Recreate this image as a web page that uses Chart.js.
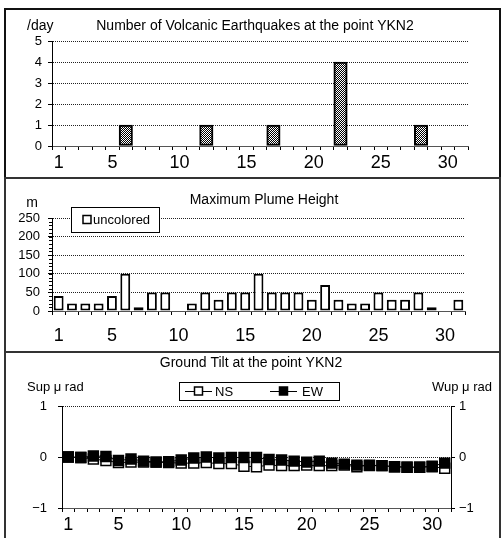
<!DOCTYPE html>
<html>
<head>
<meta charset="utf-8">
<script src="https://cdn.jsdelivr.net/npm/chart.js@4.4.0/dist/chart.umd.min.js"></script>
<style>
  html, body { margin: 0; padding: 0; background: #fff; overflow: hidden; }
  body { width: 501px; height: 538px; position: relative; }
  canvas { position: absolute; left: 0; }
  .frame { position: absolute; left: 4px; width: 497px; box-sizing: border-box; border: 2px solid #333; pointer-events: none; }
</style>
</head>
<body>
<canvas id="quake" width="501" height="169" style="top:9px"></canvas>
<canvas id="plume" width="501" height="174" style="top:178px"></canvas>
<canvas id="tilt" width="501" height="186" style="top:352px"></canvas>
<div class="frame" style="top:8px;height:171px;border-color:#111"></div>
<div class="frame" style="top:177px;height:176px"></div>
<div class="frame" style="top:351px;height:190px"></div>
<script>
// days of the month and which of them get a label
const days = ["1", "2", "3", "4", "5", "6", "7", "8", "9", "10", "11", "12", "13", "14", "15", "16",
  "17", "18", "19", "20", "21", "22", "23", "24", "25", "26", "27", "28", "29", "30", "31"];
const labelDays = ["1", "5", "10", "15", "20", "25", "30"];

// volcanic earthquakes per day (null = none)
const quakeCounts = [null, null, null, null, null, 1, null, null, null, null, null, 1, null, null, null, null,
  1, null, null, null, null, 4, null, null, null, null, null, 1, null, null, null];

// maximum plume height, m
const plumeHeights = [40, 20, 20, 20, 40, 100, 10, 50, 50, null, 20, 50, 30, 50, 50, 100,
  50, 50, 50, 30, 70, 30, 20, 20, 50, 30, 30, 50, 10, null, 30];

// ground tilt, micro rad
const tiltNS = [0, -0.01, -0.04, -0.07, -0.11, -0.1, -0.1, -0.1, -0.11, -0.12, -0.12, -0.11, -0.13, -0.13, -0.18, -0.19,
  -0.16, -0.17, -0.17, -0.16, -0.17, -0.17, -0.16, -0.19, -0.16, -0.17, -0.19, -0.2, -0.2, -0.19, -0.22];
const tiltEW = [0, -0.01, 0.02, 0.01, -0.07, -0.04, -0.08, -0.1, -0.09, -0.06, -0.02, 0, -0.02, -0.01, -0.01, -0.01,
  -0.05, -0.06, -0.08, -0.1, -0.08, -0.12, -0.14, -0.16, -0.17, -0.17, -0.19, -0.2, -0.2, -0.18, -0.12];

const SANS = '"Liberation Sans", Arial, sans-serif';

// free text (titles, units)
const panelText = {
  id: "panelText",
  afterDraw(chart, args, opts) {
    const ctx = chart.ctx;
    ctx.save();
    ctx.fillStyle = "#000";
    ctx.textBaseline = "middle";
    (opts.items || []).forEach((t) => {
      ctx.font = t.font || "14px " + SANS;
      ctx.textAlign = t.align || "center";
      ctx.fillText(t.text, t.x, t.y);
    });
    ctx.restore();
  },
};

// boxed legend drawn from the datasets
const boxLegend = {
  id: "boxLegend",
  afterDraw(chart, args, opts) {
    if (!opts.box) return;
    const ctx = chart.ctx;
    const b = opts.box;
    const cy = b.y + b.h / 2;
    ctx.save();
    ctx.fillStyle = "#fff";
    ctx.fillRect(b.x, b.y, b.w, b.h);
    ctx.strokeStyle = "#000";
    ctx.lineWidth = 1;
    ctx.strokeRect(b.x + 0.5, b.y + 0.5, b.w, b.h);
    ctx.font = opts.font || "13px " + SANS;
    ctx.textBaseline = "middle";
    ctx.textAlign = "left";
    chart.data.datasets.forEach((ds, i) => {
      const it = opts.items[i];
      if (it.line) {
        ctx.strokeStyle = "#000";
        ctx.lineWidth = 1;
        ctx.beginPath();
        ctx.moveTo(it.x, cy + 0.5);
        ctx.lineTo(it.x + it.line, cy + 0.5);
        ctx.stroke();
      }
      const sx = it.line ? it.x + it.line / 2 : it.x + it.size / 2;
      ctx.fillStyle = ds.pointBackgroundColor || "#fff";
      ctx.fillRect(sx - it.size / 2, cy - it.size / 2, it.size, it.size);
      ctx.strokeStyle = "#000";
      ctx.lineWidth = 1.5;
      ctx.strokeRect(sx - it.size / 2, cy - it.size / 2, it.size, it.size);
      ctx.fillStyle = "#000";
      ctx.fillText(ds.label, it.tx, cy + 1);
    });
    ctx.restore();
  },
};

// small minor ticks on the left axis
const minorTicks = {
  id: "minorTicks",
  afterDraw(chart, args, opts) {
    if (!opts.step) return;
    const y = chart.scales.y;
    const ctx = chart.ctx;
    ctx.save();
    ctx.strokeStyle = "#000";
    ctx.lineWidth = 1;
    ctx.beginPath();
    for (let v = y.min; v <= y.max; v += opts.step) {
      const py = Math.round(y.getPixelForValue(v)) + 0.5;
      ctx.moveTo(y.right - 3, py);
      ctx.lineTo(y.right, py);
    }
    ctx.stroke();
    ctx.restore();
  },
};

function checkerPattern() {
  const c = document.createElement("canvas");
  c.width = 2;
  c.height = 2;
  const g = c.getContext("2d");
  g.fillStyle = "#fff";
  g.fillRect(0, 0, 2, 2);
  g.fillStyle = "#000";
  g.fillRect(0, 0, 1, 1);
  g.fillRect(1, 1, 1, 1);
  return g.createPattern(c, "repeat");
}

function dayAxis(height, pad) {
  return {
    offset: true,
    grid: { offset: true, drawOnChartArea: false, tickLength: 4, tickColor: "#000" },
    border: { color: "#555", width: 1 },
    ticks: {
      autoSkip: false,
      maxRotation: 0,
      padding: pad,
      color: "#000",
      font: { family: SANS, size: 18 },
      callback: (v, i) => (labelDays.includes(days[i]) ? days[i] : ""),
    },
    afterFit: (s) => { s.height = height; },
  };
}

function valueAxis(min, max, step, width, pad, extra) {
  return Object.assign({
    min: min,
    max: max,
    grid: { color: "#222", tickLength: 4, tickColor: "#000" },
    border: { color: "#000", width: 1, dash: [1, 1] },
    ticks: {
      stepSize: step,
      padding: pad,
      color: "#000",
      font: { family: SANS, size: 13 },
      callback: (v) => (v < 0 ? "\u2212" + Math.abs(v) : v),
    },
    afterFit: (s) => { s.width = width; },
  }, extra || {});
}

const common = {
  responsive: false,
  animation: false,
  events: [],
};

new Chart(document.getElementById("quake"), {
  type: "bar",
  data: {
    labels: days,
    datasets: [{
      label: "earthquakes",
      data: quakeCounts,
      backgroundColor: checkerPattern(),
      borderColor: "#000",
      borderWidth: 2,
      borderSkipped: false,
      barPercentage: 1,
      categoryPercentage: 1,
    }],
  },
  options: Object.assign({}, common, {
    layout: { padding: { left: 4, right: 33, top: 32, bottom: 0 } },
    plugins: {
      legend: { display: false },
      tooltip: { enabled: false },
      panelText: {
        items: [
          { text: "Number of Volcanic Earthquakes at the point YKN2", x: 255, y: 17 },
          { text: "/day", x: 27, y: 17, align: "left" },
        ],
      },
    },
    scales: {
      x: dayAxis(32, 2),
      y: valueAxis(0, 5, 1, 48, 6),
    },
  }),
  plugins: [panelText],
});

new Chart(document.getElementById("plume"), {
  type: "bar",
  data: {
    labels: days,
    datasets: [{
      label: "uncolored",
      data: plumeHeights,
      backgroundColor: "#fff",
      pointBackgroundColor: "#fff",
      borderColor: "#000",
      borderWidth: 2,
      borderSkipped: false,
      barPercentage: 0.74,
      categoryPercentage: 1,
    }],
  },
  options: Object.assign({}, common, {
    layout: { padding: { left: 4, right: 36, top: 40, bottom: 0 } },
    plugins: {
      legend: { display: false },
      tooltip: { enabled: false },
      panelText: {
        items: [
          { text: "Maximum Plume Height", x: 264, y: 22 },
          { text: "m", x: 32, y: 25 },
        ],
      },
      boxLegend: {
        box: { x: 71, y: 29, w: 88, h: 25 },
        items: [{ x: 83, size: 8, tx: 93 }],
      },
      minorTicks: { step: 10 },
    },
    scales: {
      x: dayAxis(41, 10),
      y: valueAxis(0, 250, 50, 48, 8),
    },
  }),
  plugins: [panelText, boxLegend, minorTicks],
});

new Chart(document.getElementById("tilt"), {
  type: "line",
  data: {
    labels: days,
    datasets: [
      {
        label: "NS",
        data: tiltNS,
        order: 2,
        borderColor: "#000",
        borderWidth: 1,
        pointStyle: "rect",
        pointRadius: 7,
        pointBorderWidth: 1.5,
        pointBorderColor: "#000",
        pointBackgroundColor: "#fff",
        yAxisID: "y",
      },
      {
        label: "EW",
        data: tiltEW,
        order: 1,
        borderColor: "#000",
        borderWidth: 1,
        pointStyle: "rect",
        pointRadius: 7,
        pointBorderWidth: 1.5,
        pointBorderColor: "#000",
        pointBackgroundColor: "#000",
        yAxisID: "y2",
      },
    ],
  },
  options: Object.assign({}, common, {
    layout: { padding: { left: 4, right: 4, top: 54, bottom: 0 } },
    plugins: {
      legend: { display: false },
      tooltip: { enabled: false },
      panelText: {
        items: [
          { text: "Ground Tilt at the point YKN2", x: 251, y: 11 },
          { text: "Sup \u03bc rad", x: 27, y: 35, align: "left", font: "13px " + SANS },
          { text: "Wup \u03bc rad", x: 432, y: 35, align: "left", font: "13px " + SANS },
        ],
      },
      boxLegend: {
        box: { x: 179, y: 30, w: 160, h: 18 },
        items: [
          { x: 185, line: 27, size: 8, tx: 215 },
          { x: 270, line: 27, size: 8, tx: 302 },
        ],
      },
    },
    scales: {
      x: dayAxis(30, 2),
      y: valueAxis(-1, 1, 1, 58, 11, { position: "left" }),
      y2: valueAxis(-1, 1, 1, 46, 4, {
        position: "right",
        grid: { drawOnChartArea: false, tickLength: 4, tickColor: "#000" },
      }),
    },
  }),
  plugins: [panelText, boxLegend],
});
</script>
</body>
</html>
